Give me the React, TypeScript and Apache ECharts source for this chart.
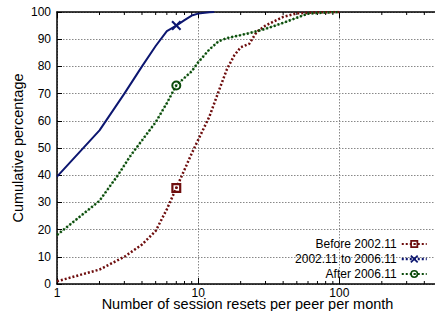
import React, { useEffect, useRef } from "react";
import * as echarts from "echarts";

const redX = [1, 2, 3, 4, 5, 6, 7, 8, 9, 10, 12, 14, 16, 18, 20, 23, 26, 30, 40, 50, 70, 100];
const redY = [1, 5.3, 10, 14.5, 19.5, 27.5, 35.3, 42, 48, 53, 61.5, 71, 79, 84, 87, 88.3, 92.7, 95, 98.2, 99.5, 99.9, 100];
const blueX = [1, 2, 3, 4, 5, 6, 7, 8, 9, 10, 12, 13];
const blueY = [39.5, 56.5, 70, 80, 87.5, 93, 95, 97, 98.7, 99.4, 99.9, 100];
const greenX = [1, 2, 2.7, 3.3, 4, 5, 6, 7, 8, 9, 10, 12, 14, 16, 20, 25, 30, 40, 50, 60, 80, 100];
const greenY = [18, 30.6, 40, 47, 52.8, 59.5, 66.5, 73, 75.8, 78.2, 81.5, 86.2, 89.3, 90.4, 91.5, 92.7, 93.8, 96, 97.9, 99.4, 99.8, 100];
const markerX = 7;
const seriesNames = ["Before 2002.11", "2002.11 to 2006.11", "After 2006.11"];
const xMinorTicks = [2, 3, 4, 5, 6, 7, 8, 9, 20, 30, 40, 50, 60, 70, 80, 90, 200, 300, 400];

const RED = "#6e0d0d";
const BLUE = "#0c1670";
const GREEN = "#0a4a0a";
const FONT = "Liberation Sans";

const SQUARE = "path://M0,0H10V10H0Z M2.2,2.2V7.8H7.8V2.2Z M4,4H6V6H4Z";
const CROSS = "path://M0,1.5L1.5,0L5,3.5L8.5,0L10,1.5L6.5,5L10,8.5L8.5,10L5,6.5L1.5,10L0,8.5L3.5,5Z";
const RINGDOT = "path://M5,0A5,5 0 1,1 5,10A5,5 0 1,1 5,0Z M5,2A3,3 0 1,0 5,8A3,3 0 1,0 5,2Z M5,4A1,1 0 1,1 5,6A1,1 0 1,1 5,4Z";

function build(xs: number[], ys: number[], mark: boolean) {
  return xs.map((x, i) => {
    if (mark && x === markerX) return { value: [x, ys[i]], symbolSize: 10 };
    return { value: [x, ys[i]], symbolSize: 0 };
  });
}

export default function App() {
  const ref = useRef<HTMLDivElement>(null);
  useEffect(() => {
    if (!ref.current) return;
    const chart = echarts.init(ref.current, undefined, { renderer: "svg" });
    const xAxisCommon = {
      type: "log" as const,
      logBase: 10,
      min: 1,
      max: 500,
      axisLine: { show: true, lineStyle: { color: "#000", width: 1.5 } },
      axisTick: { show: true, inside: true, length: 6, lineStyle: { color: "#000" } },
      minorTick: { show: false },
    };
    chart.setOption({
      animation: false,
      textStyle: { fontFamily: FONT },
      grid: { left: 57, right: -3, top: 12, bottom: 27, containLabel: false, outerBoundsMode: "none" },
      xAxis: [
        {
          ...xAxisCommon,
          position: "bottom",
          axisLabel: { color: "#000", fontSize: 12, lineHeight: 11, fontFamily: FONT, margin: 3, showMaxLabel: false },
          splitLine: { show: true, lineStyle: { color: "#888", type: [1.5, 1.5], width: 1 } },
          name: "Number of session resets per peer per month",
          nameLocation: "middle",
          nameGap: 14,
          nameMoveOverlap: false,
          nameTextStyle: { color: "#000", fontSize: 14.5, lineHeight: 12, fontFamily: FONT },
        },
        {
          ...xAxisCommon,
          position: "top",
          axisLabel: { show: false },
          splitLine: { show: false },
        },
      ],
      yAxis: {
        type: "value",
        min: 0,
        max: 100,
        interval: 10,
        axisLine: { show: true, lineStyle: { color: "#000", width: 1.5 } },
        axisTick: { show: true, inside: true, length: 5, lineStyle: { color: "#000" } },
        axisLabel: { color: "#000", fontSize: 12, fontFamily: FONT, margin: 6 },
        splitLine: { show: true, lineStyle: { color: "#888", type: [1.5, 1.5], width: 1 } },
        name: "Cumulative percentage",
        nameLocation: "middle",
        nameGap: 32,
        nameMoveOverlap: false,
        nameTextStyle: { color: "#000", fontSize: 14.5, fontFamily: FONT },
      },
      legend: {
        orient: "vertical",
        right: 7,
        bottom: 31,
        padding: 0,
        align: "right",
        itemWidth: 25,
        itemHeight: 10,
        itemGap: 3,
        textStyle: { color: "#000", fontSize: 12, fontFamily: FONT },
        data: [
          { name: seriesNames[0] },
          { name: seriesNames[1], lineStyle: { type: [2, 2], width: 2.5 } },
          { name: seriesNames[2] },
        ],
      },
      series: [
        {
          name: "green-under",
          type: "line",
          data: build(greenX, greenY, false),
          symbol: "none",
          lineStyle: { color: "#8fbf8f", width: 1 },
          itemStyle: { color: "#8fbf8f" },
          z: 1,
          silent: true,
        },
        {
          name: seriesNames[0],
          type: "line",
          data: build(redX, redY, true),
          symbol: SQUARE,
          symbolSize: 10,
          showSymbol: true,
          lineStyle: { color: RED, width: 2.5, type: [2, 2] },
          itemStyle: { color: RED, borderWidth: 0 },
          z: 3,
        },
        {
          name: seriesNames[1],
          type: "line",
          data: build(blueX, blueY, true),
          symbol: CROSS,
          symbolSize: 10,
          showSymbol: true,
          lineStyle: { color: BLUE, width: 2 },
          itemStyle: { color: BLUE, borderWidth: 0 },
          z: 3,
        },
        {
          name: seriesNames[2],
          type: "line",
          data: build(greenX, greenY, true),
          symbol: RINGDOT,
          symbolSize: 10,
          showSymbol: true,
          lineStyle: { color: GREEN, width: 2.5, type: [2, 2] },
          itemStyle: { color: GREEN, borderWidth: 0 },
          z: 3,
        },
      ],
    });
    const yBottom = chart.convertToPixel({ yAxisIndex: 0 }, 0) as number;
    const yTop = chart.convertToPixel({ yAxisIndex: 0 }, 100) as number;
    const graphics: any[] = [];
    xMinorTicks.forEach((v) => {
      const px = chart.convertToPixel({ xAxisIndex: 0 }, v) as number;
      graphics.push({
        type: "line",
        shape: { x1: px, y1: yBottom, x2: px, y2: yBottom - 3 },
        style: { stroke: "#000", lineWidth: 1 },
        silent: true,
      });
      graphics.push({
        type: "line",
        shape: { x1: px, y1: yTop, x2: px, y2: yTop + 3 },
        style: { stroke: "#000", lineWidth: 1 },
        silent: true,
      });
    });
    chart.setOption({ graphic: graphics });
    return () => chart.dispose();
  }, []);
  return (
    <div
      ref={ref}
      style={{ position: "fixed", left: 0, top: 0, width: 435, height: 311, background: "#fff" }}
    />
  );
}
